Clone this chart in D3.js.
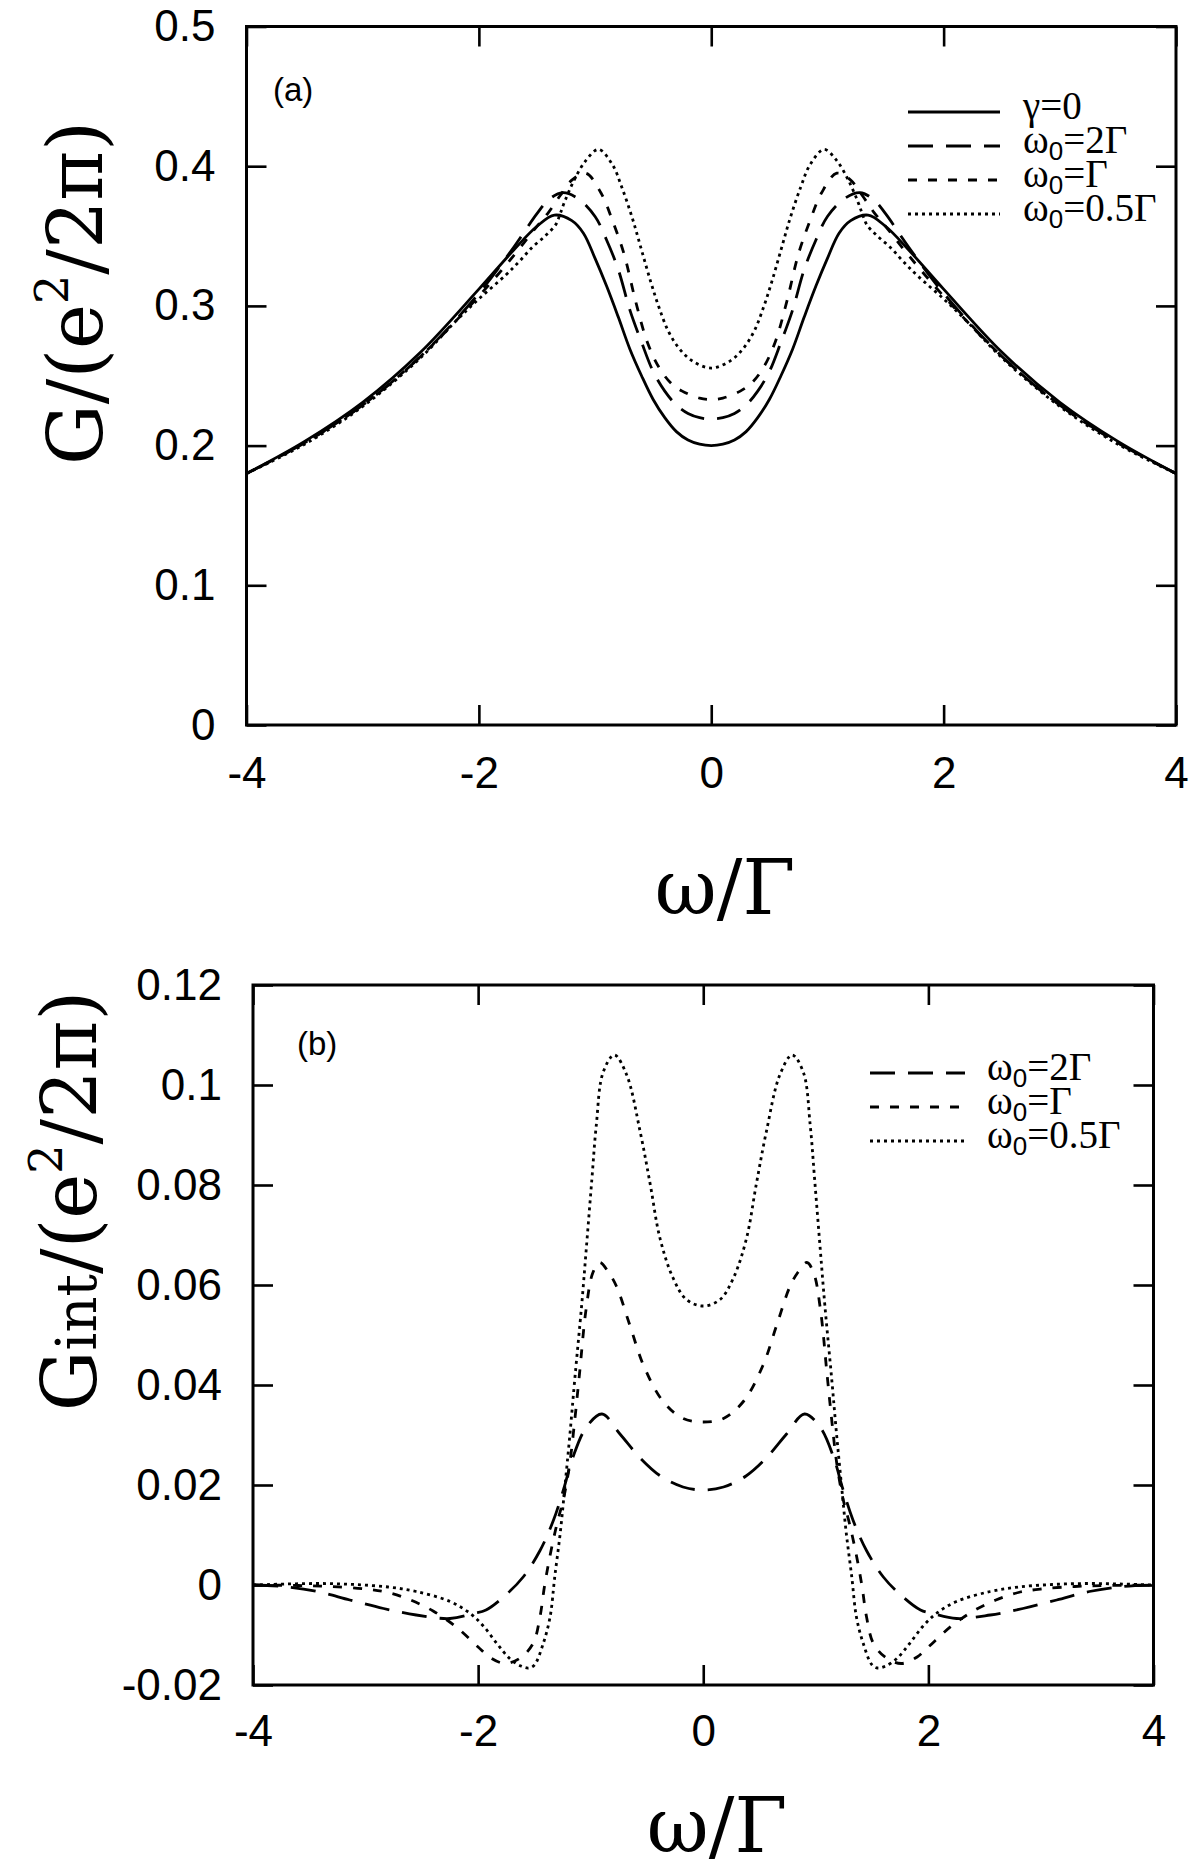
<!DOCTYPE html>
<html><head><meta charset="utf-8">
<script src="https://cdn.jsdelivr.net/npm/d3@7"></script>
<style>body{margin:0;background:#fff}</style>
</head><body><svg id="c" width="1200" height="1874"></svg>
<script>
// ---------- data ----------
const xTicks = [-4, -2, 0, 2, 4];
const xTickLabels = ["-4", "-2", "0", "2", "4"];
const yTicksA = [0, 0.1, 0.2, 0.3, 0.4, 0.5];
const yTickLabelsA = ["0", "0.1", "0.2", "0.3", "0.4", "0.5"];
const yTicksB = [-0.02, 0, 0.02, 0.04, 0.06, 0.08, 0.1, 0.12];
const yTickLabelsB = ["-0.02", "0", "0.02", "0.04", "0.06", "0.08", "0.1", "0.12"];

// Panel (a): G/(e^2/2π)
const omegaA_g0 = [-4,-3.5,-3,-2.5,-2,-1.7,-1.5,-1.35,-1.2,-1.1,-1,-0.9,-0.8,-0.7,-0.6,-0.5,-0.4,-0.3,-0.2,-0.1,0,
  0.1,0.2,0.3,0.4,0.5,0.6,0.7,0.8,0.9,1,1.1,1.2,1.35,1.5,1.7,2,2.5,3,3.5,4];
const gA_g0 = [0.180,0.203,0.231,0.267,0.312,0.340,0.357,0.365,0.361,0.352,0.334,0.314,0.292,0.269,0.250,0.233,0.220,0.210,0.204,0.201,0.200,
  0.201,0.204,0.210,0.220,0.233,0.250,0.269,0.292,0.314,0.334,0.352,0.361,0.365,0.357,0.340,0.312,0.267,0.231,0.203,0.180];

const omegaA_w2 = [-4,-3.5,-3,-2.5,-2,-1.7,-1.5,-1.4,-1.28,-1.15,-1,-0.9,-0.8,-0.7,-0.6,-0.5,-0.4,-0.3,-0.2,-0.1,0,
  0.1,0.2,0.3,0.4,0.5,0.6,0.7,0.8,0.9,1,1.15,1.28,1.4,1.5,1.7,2,2.5,3,3.5,4];
const gA_w2 = [0.180,0.202,0.229,0.264,0.309,0.342,0.366,0.376,0.381,0.377,0.364,0.347,0.326,0.297,0.274,0.253,0.239,0.229,0.223,0.220,0.219,
  0.220,0.223,0.229,0.239,0.253,0.274,0.297,0.326,0.347,0.364,0.377,0.381,0.376,0.366,0.342,0.309,0.264,0.229,0.202,0.180];

const omegaA_w1 = [-4,-3.5,-3,-2.5,-2,-1.7,-1.5,-1.4,-1.3,-1.2,-1.08,-0.95,-0.85,-0.75,-0.65,-0.55,-0.45,-0.35,-0.25,-0.1,0,
  0.1,0.25,0.35,0.45,0.55,0.65,0.75,0.85,0.95,1.08,1.2,1.3,1.4,1.5,1.7,2,2.5,3,3.5,4];
const gA_w1 = [0.180,0.202,0.229,0.264,0.307,0.336,0.357,0.367,0.379,0.390,0.395,0.381,0.361,0.337,0.303,0.274,0.256,0.245,0.239,0.234,0.233,
  0.234,0.239,0.245,0.256,0.274,0.303,0.337,0.361,0.381,0.395,0.390,0.379,0.367,0.357,0.336,0.307,0.264,0.229,0.202,0.180];

const omegaA_w05 = [-4,-3.5,-3,-2.5,-2.2,-2,-1.77,-1.65,-1.54,-1.43,-1.34,-1.3,-1.26,-1.18,-1.08,-0.97,-0.85,-0.77,-0.68,-0.6,-0.52,-0.45,-0.37,-0.28,-0.17,0,
  0.17,0.28,0.37,0.45,0.52,0.6,0.68,0.77,0.85,0.97,1.08,1.18,1.26,1.3,1.34,1.43,1.54,1.65,1.77,2,2.2,2.5,3,3.5,4];
const gA_w05 = [0.180,0.201,0.228,0.263,0.289,0.305,0.322,0.332,0.342,0.350,0.358,0.366,0.375,0.390,0.404,0.412,0.401,0.385,0.363,0.340,0.317,0.299,0.282,0.270,0.261,0.2555,
  0.261,0.270,0.282,0.299,0.317,0.340,0.363,0.385,0.401,0.412,0.404,0.390,0.375,0.366,0.358,0.350,0.342,0.332,0.322,0.305,0.289,0.263,0.228,0.201,0.180];

// Panel (b): G_int/(e^2/2π)
const omegaB_w2 = [-4,-3.73,-3.43,-3.14,-2.84,-2.55,-2.25,-2.04,-1.93,-1.75,-1.6,-1.45,-1.33,-1.24,-1.16,-1.04,-0.9,-0.74,-0.56,-0.38,-0.18,0,
  0.18,0.38,0.56,0.74,0.9,1.04,1.16,1.24,1.33,1.45,1.6,1.75,1.93,2.04,2.25,2.55,2.84,3.14,3.43,3.73,4];
const gB_w2 = [0,-0.0003,-0.0013,-0.003,-0.0047,-0.006,-0.0067,-0.0057,-0.005,-0.0019,0.0016,0.0069,0.013,0.0192,0.0254,0.0315,0.0342,0.0302,0.0254,0.0218,0.0196,0.019,
  0.0196,0.0218,0.0254,0.0302,0.0342,0.0315,0.0254,0.0192,0.013,0.0069,0.0016,-0.0019,-0.005,-0.0057,-0.0067,-0.006,-0.0047,-0.003,-0.0013,-0.0003,0];

const omegaB_w1 = [-4,-3.6,-3.3,-3.0,-2.8,-2.6,-2.4,-2.2,-2.0,-1.9,-1.76,-1.62,-1.51,-1.45,-1.41,-1.36,-1.3,-1.24,-1.185,-1.14,-1.1,-1.04,-0.98,-0.92,-0.84,-0.77,-0.65,-0.53,-0.36,-0.18,0,
  0.18,0.36,0.53,0.65,0.77,0.84,0.92,0.98,1.04,1.1,1.14,1.185,1.24,1.3,1.36,1.41,1.45,1.51,1.62,1.76,1.9,2.0,2.2,2.4,2.6,2.8,3.0,3.3,3.6,4];
const gB_w1 = [0,-0.0001,-0.0003,-0.0008,-0.0015,-0.003,-0.0052,-0.0083,-0.0124,-0.0144,-0.0157,-0.0145,-0.0116,-0.0063,-0.0002,0.006,0.0122,0.0174,0.0245,0.0333,0.0421,0.0553,0.0625,0.0645,0.0625,0.0597,0.0518,0.0439,0.0368,0.0333,0.0326,
  0.0333,0.0368,0.0439,0.0518,0.0597,0.0625,0.0645,0.0625,0.0553,0.0421,0.0333,0.0245,0.0174,0.0122,0.006,-0.0002,-0.0063,-0.0116,-0.0145,-0.0157,-0.0144,-0.0124,-0.0083,-0.0052,-0.003,-0.0015,-0.0008,-0.0003,-0.0001,0];

const omegaB_w05 = [-4,-3.7,-3.4,-3.1,-2.8,-2.55,-2.25,-2.07,-1.95,-1.83,-1.72,-1.62,-1.55,-1.5,-1.42,-1.36,-1.32,-1.27,-1.23,-1.185,-1.14,-1.08,-1.04,-0.99,-0.95,-0.89,-0.79,-0.68,-0.56,-0.47,-0.385,-0.27,-0.15,0,
  0.15,0.27,0.385,0.47,0.56,0.68,0.79,0.89,0.95,0.99,1.04,1.08,1.14,1.185,1.23,1.27,1.32,1.36,1.42,1.5,1.55,1.62,1.72,1.83,1.95,2.07,2.25,2.55,2.8,3.1,3.4,3.7,4];
const gB_w05 = [0,0.0002,0.0003,0.0001,-0.0004,-0.0013,-0.0033,-0.0057,-0.0083,-0.0118,-0.0147,-0.0162,-0.0166,-0.0160,-0.0116,-0.0063,0.0015,0.0105,0.0195,0.030,0.0415,0.056,0.067,0.081,0.092,0.1025,0.106,0.102,0.0906,0.080,0.0694,0.0615,0.0571,0.0558,
  0.0571,0.0615,0.0694,0.080,0.0906,0.102,0.106,0.1025,0.092,0.081,0.067,0.056,0.0415,0.030,0.0195,0.0105,0.0015,-0.0063,-0.0116,-0.0160,-0.0166,-0.0162,-0.0147,-0.0118,-0.0083,-0.0057,-0.0033,-0.0013,-0.0004,0.0001,0.0003,0.0002,0];

const labelsA = ["γ=0", "2Γ", "Γ", "0.5Γ"];
const labelsB = ["2Γ", "Γ", "0.5Γ"];

// ---------- drawing ----------
const svg = d3.select("#c");
const DASH = { solid: null, long: "25,13", short: "9,11", dot: "3,4" };

function drawPanel(o) {
  const x = d3.scaleLinear().domain([-4, 4]).range([o.left, o.right]);
  const y = d3.scaleLinear().domain(o.yDomain).range([o.bottom, o.top]);
  const g = svg.append("g");
  const tickFont = (sel) => sel.selectAll("text").attr("font-family", "Liberation Sans, Arial, sans-serif").attr("font-size", 44).attr("fill", "#000");
  const styleTicks = (sel) => { sel.select(".domain").remove(); sel.selectAll(".tick line").attr("stroke", "#000").attr("stroke-width", 2.6); };

  g.append("g").attr("transform", `translate(0,${o.bottom})`)
    .call(d3.axisBottom(x).tickValues(xTicks).tickFormat((d, i) => xTickLabels[i]).tickSizeInner(-20).tickSizeOuter(0).tickPadding(o.xPad))
    .call(styleTicks).call(tickFont);
  g.append("g").attr("transform", `translate(0,${o.top})`)
    .call(d3.axisTop(x).tickValues(xTicks).tickFormat("").tickSizeInner(-20).tickSizeOuter(0))
    .call(styleTicks);
  g.append("g").attr("transform", `translate(${o.left},0)`)
    .call(d3.axisLeft(y).tickValues(o.yTicks).tickFormat((d, i) => o.yLabels[i]).tickSizeInner(-20).tickSizeOuter(0).tickPadding(31))
    .call(styleTicks).call(tickFont);
  g.append("g").attr("transform", `translate(${o.right},0)`)
    .call(d3.axisRight(y).tickValues(o.yTicks).tickFormat("").tickSizeInner(-20).tickSizeOuter(0))
    .call(styleTicks);

  g.append("rect").attr("x", o.left).attr("y", o.top)
    .attr("width", o.right - o.left).attr("height", o.bottom - o.top)
    .attr("fill", "none").attr("stroke", "#000").attr("stroke-width", 3);

  const line = d3.line().x(d => x(d[0])).y(d => y(d[1])).curve(d3.curveCatmullRom.alpha(0.5));
  o.series.forEach(s => {
    g.append("path").datum(d3.zip(s.xs, s.ys)).attr("d", line)
      .attr("fill", "none").attr("stroke", "#000").attr("stroke-width", 2.8)
      .attr("stroke-dasharray", DASH[s.dash]);
  });

  // legend
  o.series.forEach((s, i) => {
    const ly = o.legTop + i * o.legStep;
    g.append("line").attr("x1", o.legX1).attr("x2", o.legX2).attr("y1", ly).attr("y2", ly)
      .attr("stroke", "#000").attr("stroke-width", 3).attr("stroke-dasharray", DASH[s.dash]);
    const t = g.append("text").attr("x", o.legTextX).attr("y", ly + 7)
      .attr("font-family", "Liberation Serif, Times New Roman, serif").attr("font-size", 39).attr("fill", "#000");
    if (s.label === "γ=0") {
      t.text("γ=0");
    } else {
      t.append("tspan").text("ω");
      t.append("tspan").attr("font-family", "Liberation Sans, Arial, sans-serif").attr("font-size", 26).attr("dy", 7).text("0");
      t.append("tspan").attr("dy", -7).text("=" + s.label);
    }
  });

  // panel label
  g.append("text").attr("x", o.panelX).attr("y", o.panelY)
    .attr("font-family", "Liberation Sans, Arial, sans-serif").attr("font-size", 33).attr("fill", "#000")
    .text(o.panelLabel);

  // x title
  g.append("text").attr("x", o.xTitleX).attr("y", o.xTitleY).attr("text-anchor", "middle")
    .attr("font-family", "DejaVu Serif, serif").attr("font-size", 76).attr("fill", "#000").text("ω/Γ");

  // y title
  const yt = g.append("text").attr("transform", `translate(${o.yTitleX},${o.yTitleY}) rotate(-90)`)
    .attr("text-anchor", "middle").attr("font-family", "DejaVu Serif, serif").attr("font-size", 76).attr("fill", "#000");
  yt.append("tspan").text("G");
  if (o.sub) yt.append("tspan").attr("font-size", 56).text(o.sub);
  yt.append("tspan").text("/(e");
  yt.append("tspan").attr("font-size", 46).attr("dy", -34).text("2");
  yt.append("tspan").attr("dy", 34).text("/2π)");
}

drawPanel({
  left: 246.5, right: 1176, top: 26.5, bottom: 725, yDomain: [0, 0.5],
  yTicks: yTicksA, yLabels: yTickLabelsA, xPad: 32,
  series: [
    { xs: omegaA_g0, ys: gA_g0, dash: "solid", label: labelsA[0] },
    { xs: omegaA_w2, ys: gA_w2, dash: "long", label: labelsA[1] },
    { xs: omegaA_w1, ys: gA_w1, dash: "short", label: labelsA[2] },
    { xs: omegaA_w05, ys: gA_w05, dash: "dot", label: labelsA[3] }
  ],
  legTop: 112, legStep: 34, legX1: 908, legX2: 1000, legTextX: 1023,
  panelLabel: "(a)", panelX: 273, panelY: 101,
  xTitleX: 725, xTitleY: 914, yTitleX: 102, yTitleY: 293
});

drawPanel({
  left: 253, right: 1153.5, top: 985, bottom: 1685, yDomain: [-0.02, 0.12],
  yTicks: yTicksB, yLabels: yTickLabelsB, xPad: 30,
  series: [
    { xs: omegaB_w2, ys: gB_w2, dash: "long", label: labelsB[0] },
    { xs: omegaB_w1, ys: gB_w1, dash: "short", label: labelsB[1] },
    { xs: omegaB_w05, ys: gB_w05, dash: "dot", label: labelsB[2] }
  ],
  legTop: 1073, legStep: 34, legX1: 870, legX2: 965, legTextX: 987,
  panelLabel: "(b)", panelX: 297, panelY: 1055,
  xTitleX: 717, xTitleY: 1852, yTitleX: 96, yTitleY: 1201, sub: "int"
});
</script></body></html>
